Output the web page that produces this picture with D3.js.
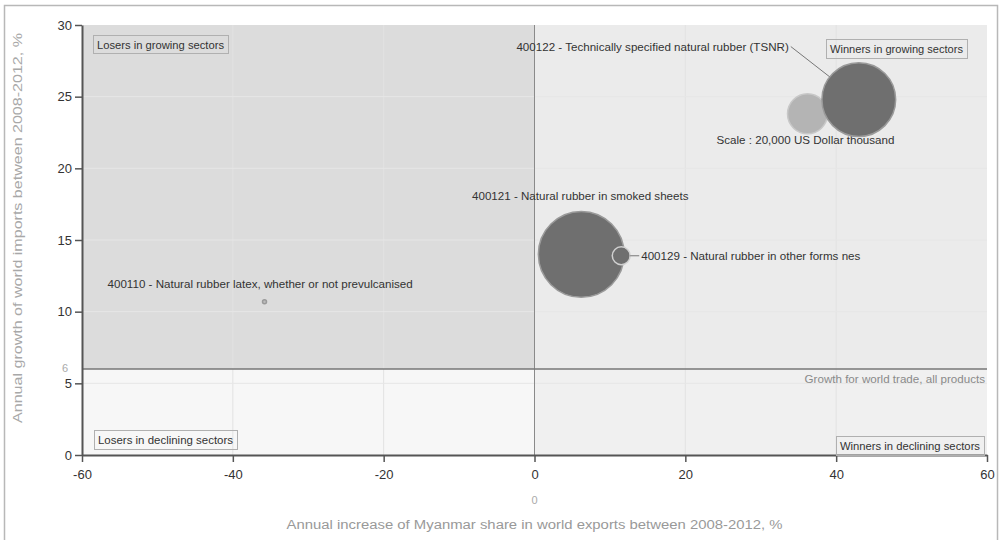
<!DOCTYPE html>
<html><head><meta charset="utf-8">
<script src="https://cdn.jsdelivr.net/npm/d3@7"></script>
<style>
html,body{margin:0;padding:0;background:#fff;}
svg{display:block;}
text{font-family:"Liberation Sans Narrow","Liberation Sans",Arial,sans-serif;}
</style></head>
<body>
<svg id="chart" width="1000" height="540"></svg>
<script>
// ---- data ----
const products = [
  "400122 - Technically specified natural rubber (TSNR)",
  "400121 - Natural rubber in smoked sheets",
  "400129 - Natural rubber in other forms nes",
  "400110 - Natural rubber latex, whether or not prevulcanised"
];
const shareGrowth = [43, 6.2, 11.5, -35.8];      // x: annual increase of Myanmar share, %
const importGrowth = [24.8, 14.0, 13.9, 10.7];   // y: annual growth of world imports, %
const exportValue = [68000, 92000, 4000, 200];   // bubble size, US$ thousand
const worldGrowth = 6;
const scaleValue = 20000;
const scaleX = 36.2, scaleY = 23.8;
const xTicks = [-60, -40, -20, 0, 20, 40, 60];
const yTicks = [0, 5, 10, 15, 20, 25, 30];
const quadrantLabels = ["Losers in growing sectors", "Winners in growing sectors",
                        "Losers in declining sectors", "Winners in declining sectors"];

// ---- layout ----
const svg = d3.select("#chart");
const x = d3.scaleLinear().domain([-60, 60]).range([82, 987]);
const y = d3.scaleLinear().domain([0, 30]).range([455, 25]);
const r = d3.scaleSqrt().domain([0, scaleValue]).range([0, 20]);
const FS = 11.6;

// outer frame
svg.append("rect").attr("x", 4.5).attr("y", 5.5).attr("width", 993).attr("height", 540)
  .attr("fill", "#fff").attr("stroke", "#b8b8b8").attr("stroke-width", 1.5);

// quadrant backgrounds
const x0 = x(0), yw = y(worldGrowth);
svg.append("rect").attr("x", x(-60)).attr("y", y(30)).attr("width", x0 - x(-60)).attr("height", yw - y(30)).attr("fill", "#dcdcdc");
svg.append("rect").attr("x", x0).attr("y", y(30)).attr("width", x(60) - x0).attr("height", yw - y(30)).attr("fill", "#ebebeb");
svg.append("rect").attr("x", x(-60)).attr("y", yw).attr("width", x0 - x(-60)).attr("height", y(0) - yw).attr("fill", "#f7f7f7");
svg.append("rect").attr("x", x0).attr("y", yw).attr("width", x(60) - x0).attr("height", y(0) - yw).attr("fill", "#f0f0f0");

// faint gridlines
svg.append("g").selectAll("line").data(xTicks.filter(d => d !== 0 && Math.abs(d) !== 60)).join("line")
  .attr("x1", d => x(d)).attr("x2", d => x(d)).attr("y1", y(30)).attr("y2", y(0))
  .attr("stroke", "#e2e2e2").attr("stroke-width", 1);
svg.append("g").selectAll("line").data(yTicks.filter(d => d > 0 && d < 30)).join("line")
  .attr("x1", x(-60)).attr("x2", x(60)).attr("y1", d => y(d)).attr("y2", d => y(d))
  .attr("stroke", "#e6e6e6").attr("stroke-width", 1);

// reference lines
svg.append("line").attr("x1", x0).attr("x2", x0).attr("y1", y(30)).attr("y2", y(0))
  .attr("stroke", "#8a8a8a").attr("stroke-width", 1);
svg.append("line").attr("x1", x(-60)).attr("x2", x(60)).attr("y1", yw).attr("y2", yw)
  .attr("stroke", "#777").attr("stroke-width", 1.5);
svg.append("text").attr("x", x(60) - 2).attr("y", yw + 14).attr("text-anchor", "end")
  .attr("font-size", FS).attr("fill", "#8a8a8a").text("Growth for world trade, all products");

// axes
const xAxis = svg.append("g").attr("transform", `translate(0,${y(0)})`)
  .call(d3.axisBottom(x).tickValues(xTicks).tickSize(7).tickSizeOuter(0).tickFormat(d => String(d)));
const yAxis = svg.append("g").attr("transform", `translate(${x(-60)},0)`)
  .call(d3.axisLeft(y).tickValues(yTicks).tickSize(7).tickSizeOuter(0).tickFormat(d => String(d)));
[xAxis, yAxis].forEach(a => {
  a.select(".domain").attr("stroke", "#555").attr("stroke-width", 2);
  a.selectAll(".tick line").attr("stroke", "#555").attr("stroke-width", 1.5);
  a.selectAll(".tick text").attr("fill", "#333").attr("font-size", 13)
    .attr("font-family", "\"Liberation Sans Narrow\",\"Liberation Sans\",sans-serif");
});
xAxis.selectAll(".tick text").attr("dy", "1.1em");

// axis extras
svg.append("text").attr("x", x(-60) - 14).attr("y", yw + 3).attr("text-anchor", "end")
  .attr("font-size", 11).attr("fill", "#aaa").text(worldGrowth);
svg.append("text").attr("x", x0).attr("y", 504).attr("text-anchor", "middle")
  .attr("font-size", 11).attr("fill", "#aaa").text("0");
svg.append("text").attr("x", x0).attr("y", 529).attr("text-anchor", "middle")
  .attr("font-size", 12).attr("fill", "#999").attr("font-family", "\"DejaVu Sans\",sans-serif")
  .attr("textLength", 496).attr("lengthAdjust", "spacingAndGlyphs")
  .text("Annual increase of Myanmar share in world exports between 2008-2012, %");
svg.append("text").attr("transform", `translate(22,${(y(30) + y(0)) / 2 - 12}) rotate(-90)`)
  .attr("text-anchor", "middle").attr("font-size", 12).attr("fill", "#a8a8a8")
  .attr("font-family", "\"DejaVu Sans\",sans-serif")
  .attr("textLength", 390).attr("lengthAdjust", "spacingAndGlyphs")
  .text("Annual growth of world imports between 2008-2012, %");

// quadrant label boxes
const qPos = [
  {x: 93, y: 35, w: 135, h: 18},
  {x: 826, y: 39, w: 141, h: 19},
  {x: 94, y: 430, w: 143, h: 19},
  {x: 836, y: 436, w: 148, h: 19}
];
quadrantLabels.forEach((t, i) => {
  const p = qPos[i];
  svg.append("rect").attr("x", p.x + 0.5).attr("y", p.y + 0.5).attr("width", p.w).attr("height", p.h)
    .attr("fill", "none").attr("stroke", "#b0b0b0").attr("stroke-width", 1);
  svg.append("text").attr("x", p.x + p.w / 2).attr("y", p.y + p.h / 2 + 4.5)
    .attr("text-anchor", "middle").attr("font-size", 11).attr("fill", "#333")
    .attr("textLength", p.w - 8).attr("lengthAdjust", "spacingAndGlyphs").text(t);
});

// scale bubble
svg.append("circle").attr("cx", x(scaleX)).attr("cy", y(scaleY)).attr("r", r(scaleValue))
  .attr("fill", "#b4b4b4").attr("stroke", "#c8c8c8").attr("stroke-width", 1.5);
svg.append("text").attr("x", x(scaleX) - 2).attr("y", y(scaleY) + 30).attr("text-anchor", "middle")
  .attr("font-size", FS).attr("fill", "#333").text("Scale : 20,000 US Dollar thousand");

// bubbles
const data = products.map((p, i) => ({name: p, x: shareGrowth[i], y: importGrowth[i], v: exportValue[i]}));
svg.append("g").selectAll("circle").data(data).join("circle")
  .attr("cx", d => x(d.x)).attr("cy", d => y(d.y)).attr("r", d => Math.max(2, r(d.v)))
  .attr("fill", (d, i) => i === 3 ? "#bbb" : "#6f6f6f")
  .attr("stroke", (d, i) => i === 2 ? "#d0d0d0" : "#9a9a9a").attr("stroke-width", 1.5);

// labels (offsets from bubble centre)
const labelLayout = [
  {dx: -70, dy: -49, anchor: "end", leader: true},
  {dx: -1, dy: -54, anchor: "middle", leader: false},
  {dx: 20, dy: 4, anchor: "start", leader: true},
  {dx: -157, dy: -14, anchor: "start", leader: false}
];
data.forEach((d, i) => {
  const L = labelLayout[i], cx = x(d.x), cy = y(d.y);
  svg.append("text").attr("x", cx + L.dx).attr("y", cy + L.dy).attr("text-anchor", L.anchor)
    .attr("font-size", FS).attr("fill", "#333").text(d.name);
  if (L.leader) {
    const tx = cx + L.dx + (L.anchor === "end" ? 2 : -2), ty = cy + L.dy - 4;
    const ang = Math.atan2(ty - cy, tx - cx), rr = r(d.v);
    svg.append("line").attr("x1", tx).attr("y1", ty)
      .attr("x2", cx + rr * Math.cos(ang)).attr("y2", cy + rr * Math.sin(ang))
      .attr("stroke", "#777").attr("stroke-width", 1);
  }
});
</script>
</body></html>
